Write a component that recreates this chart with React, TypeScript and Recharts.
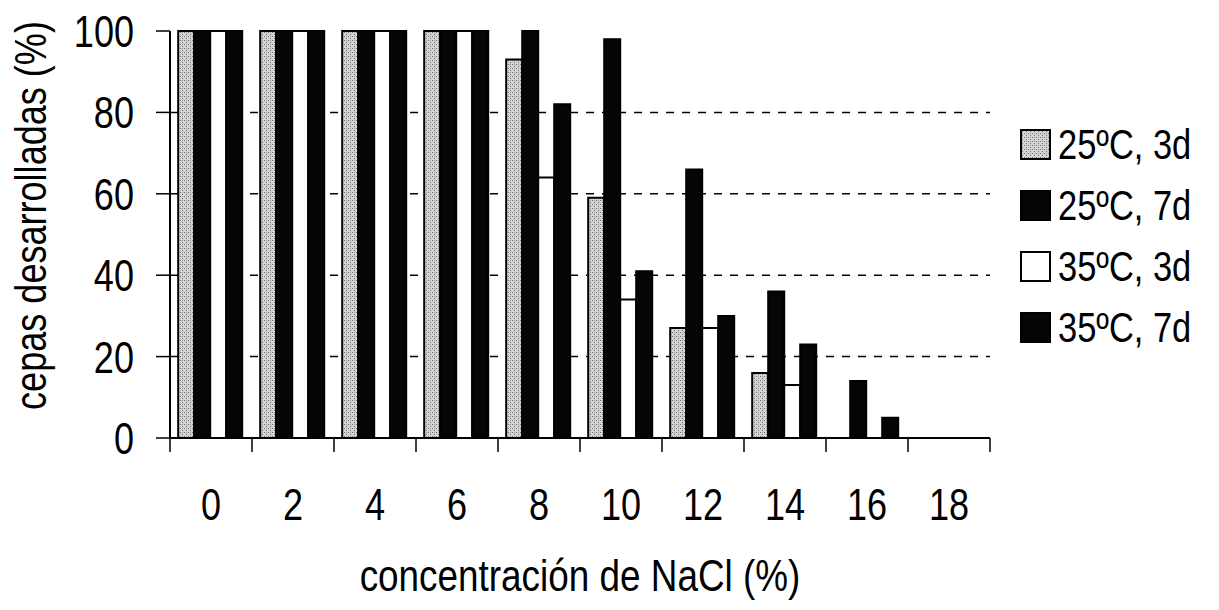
import React from "react";
import { BarChart, Bar, XAxis, YAxis, CartesianGrid, Label } from "recharts";

const concentraciones = ["0", "2", "4", "6", "8", "10", "12", "14", "16", "18"];
const c25d3 = [100, 100, 100, 100, 93, 59, 27, 16, 0, 0];
const c25d7 = [100, 100, 100, 100, 100, 98, 66, 36, 14, 0];
const c35d3 = [100, 100, 100, 100, 64, 34, 27, 13, 0, 0];
const c35d7 = [100, 100, 100, 100, 82, 41, 30, 23, 5, 0];
const yTicks = [0, 20, 40, 60, 80, 100];
const gridValues = [20, 40, 60, 80];

const series = [
  { key: "c25d3", name: "25ºC, 3d", fill: "url(#stipple)" },
  { key: "c25d7", name: "25ºC, 7d", fill: "#050505" },
  { key: "c35d3", name: "35ºC, 3d", fill: "#ffffff" },
  { key: "c35d7", name: "35ºC, 7d", fill: "#050505" },
];

const data = concentraciones.map((c, i) => ({
  conc: c,
  c25d3: c25d3[i],
  c25d7: c25d7[i],
  c35d3: c35d3[i],
  c35d7: c35d7[i],
}));

// no hay Arial Narrow: Liberation Sans comprimida horizontalmente
const FONT = "'Liberation Sans', Arial, sans-serif";
const NARROW = 0.82;
const W = 1203;
const H = 594;
const PLOT_W = 820;
const BAND = PLOT_W / concentraciones.length;

const NarrowText = ({ x, y, anchor, size, rotate, children }: any) => (
  <g transform={`translate(${x}, ${y})${rotate ? ` rotate(${rotate})` : ""} scale(${NARROW}, 1)`}>
    <text x={0} y={0} textAnchor={anchor} fontSize={size} fill="#000" fontFamily={FONT}>
      {children}
    </text>
  </g>
);

// etiqueta del eje X con marcas entre categorías
const XTick = (props: any) => {
  const { x, y, payload, index } = props;
  const last = index === concentraciones.length - 1;
  return (
    <g>
      <line x1={x - BAND / 2} x2={x - BAND / 2} y1={y} y2={y + 14} stroke="#000" strokeWidth={1.5} />
      {last && <line x1={x + BAND / 2} x2={x + BAND / 2} y1={y} y2={y + 14} stroke="#000" strokeWidth={1.5} />}
      <NarrowText x={x} y={y + 82} anchor="middle" size={44}>
        {payload.value}
      </NarrowText>
    </g>
  );
};

const YTick = (props: any) => {
  const { x, y, payload } = props;
  return (
    <NarrowText x={x} y={y + 16} anchor="end" size={44}>
      {payload.value}
    </NarrowText>
  );
};

const Stipple = ({ id }: { id: string }) => (
  <pattern id={id} width={4} height={4} patternUnits="userSpaceOnUse">
    <rect width={4} height={4} fill="#d4d4d4" />
    <rect x={0} y={0} width={1} height={1} fill="#707070" />
    <rect x={2} y={2} width={1} height={1} fill="#707070" />
    <rect x={2} y={0} width={1} height={1} fill="#a0a0a0" />
  </pattern>
);

export default function App() {
  return (
    <div style={{ position: "relative", width: W, height: H, fontFamily: FONT }}>
      <BarChart
        width={W}
        height={H}
        data={data}
        margin={{ top: 23, right: 221, left: 0, bottom: 0 }}
        barCategoryGap="10%"
        barGap={0}
      >
        <defs>
          <Stipple id="stipple" />
        </defs>
        <CartesianGrid
          vertical={false}
          horizontalValues={gridValues}
          stroke="#000"
          strokeWidth={1.5}
          strokeDasharray="8 8"
        />
        <XAxis
          dataKey="conc"
          height={164}
          tickSize={0}
          tickMargin={0}
          tickLine={false}
          axisLine={{ stroke: "#000", strokeWidth: 2 }}
          tick={<XTick />}
          interval={0}
        >
          <Label
            content={(p: any) => {
              const vb = p.viewBox;
              return (
                <NarrowText x={vb.x + vb.width / 2} y={vb.y + 153} anchor="middle" size={45}>
                  concentración de NaCl (%)
                </NarrowText>
              );
            }}
          />
        </XAxis>
        <YAxis
          width={162}
          domain={[0, 100]}
          ticks={yTicks}
          interval={0}
          tickSize={14}
          tickMargin={22}
          axisLine={{ stroke: "#000", strokeWidth: 2 }}
          tickLine={{ stroke: "#000", strokeWidth: 1.5 }}
          tick={<YTick />}
        >
          <Label
            content={(p: any) => {
              const vb = p.viewBox;
              const cy = vb.y + vb.height / 2 - 19;
              return (
                <NarrowText x={38} y={cy} anchor="middle" size={44} rotate={-90}>
                  cepas desarrolladas (%)
                </NarrowText>
              );
            }}
          />
        </YAxis>
        {series.map((s) => (
          <Bar
            key={s.key}
            dataKey={s.key}
            name={s.name}
            fill={s.fill}
            stroke="#000"
            strokeWidth={2}
            isAnimationActive={false}
          />
        ))}
      </BarChart>
      <div style={{ position: "absolute", left: 1012, top: 106 }}>
        {series.map((s, i) => (
          <div key={s.key} style={{ display: "flex", alignItems: "center", height: 61, whiteSpace: "nowrap" }}>
            <svg width={32} height={32} style={{ marginRight: 6, flex: "none" }}>
              <defs>
                <Stipple id={`stipple-lg-${i}`} />
              </defs>
              <rect
                x={1}
                y={1}
                width={29}
                height={29}
                fill={i === 0 ? `url(#stipple-lg-${i})` : s.fill}
                stroke="#000"
                strokeWidth={2}
              />
            </svg>
            <span
              style={{
                display: "inline-block",
                fontSize: 42,
                color: "#000",
                lineHeight: 1,
                transform: `scaleX(${NARROW})`,
                transformOrigin: "left center",
              }}
            >
              {s.name}
            </span>
          </div>
        ))}
      </div>
    </div>
  );
}
